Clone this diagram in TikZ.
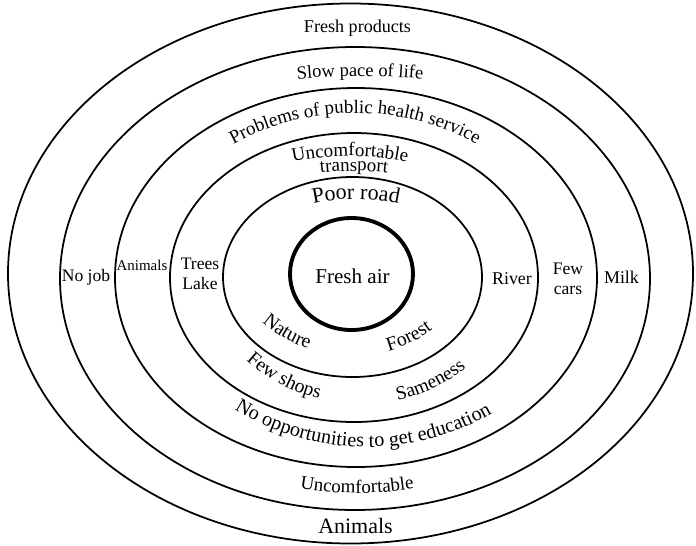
\documentclass[tikz,border=0pt]{standalone}
\usepackage{fontspec}
\setmainfont{Liberation Serif}
\usetikzlibrary{decorations.text}

\tikzset{
  ring/.style={line width=1pt},
  core/.style={line width=2.2pt},
  lbl/.style={inner sep=0pt, align=center, font=\fontsize{10}{11.3}\selectfont},
  arctext/.style={decorate, decoration={text along path, text align=center, text={#1}}}
}

\begin{document}
\begin{tikzpicture}[x=0.02cm, y=0.02cm]

  % Fix the frame of the picture
  \useasboundingbox (0,0) rectangle (696,-545);

  % Define the centres of the rings
  \coordinate (O1) at (350.5,-273.5);
  \coordinate (O2) at (355,-278.5);
  \coordinate (O3) at (356,-277.5);
  \coordinate (O4) at (354,-277.5);
  \coordinate (O5) at (352.5,-277);
  \coordinate (O6) at (351.5,-274);

  % Draw the rings, from the outside in
  \draw[ring] (O1) ellipse [x radius=342.5, y radius=270];
  \draw[ring] (O2) ellipse [x radius=295, y radius=231.5];
  \draw[ring] (O3) ellipse [x radius=241, y radius=189.5];
  \draw[ring] (O4) ellipse [x radius=184, y radius=144.5];
  \draw[ring] (O5) ellipse [x radius=129.5, y radius=100];
  \draw[core] (O6) ellipse [x radius=61.5, y radius=56];

  % Centres of the arcs that carry the bent labels
  \coordinate (Cslow) at (360,-676);
  \coordinate (Chealth) at (355,-363);
  \coordinate (Cunc) at (350,-436);
  \coordinate (Ctrans) at (354,-491);
  \coordinate (Croad) at (356,-399);
  \coordinate (Cnat) at (352,-220);
  \coordinate (Cshop) at (361,-232);
  \coordinate (Cedu) at (367,-197);
  \coordinate (Cbot) at (357,-143);

  % Labels bent over the top
  \path[arctext={|\fontsize{10.5}{12}\selectfont|Slow pace of life}]
    ([shift={(105:600)}]Cslow) arc[start angle=105, end angle=75, radius=600];
  \path[arctext={|\fontsize{10.8}{12}\selectfont|Problems of public health service}]
    ([shift={(130:250)}]Chealth) arc[start angle=130, end angle=50, radius=250];
  \path[arctext={|\fontsize{10.8}{12}\selectfont|Uncomfortable}]
    ([shift={(115:280)}]Cunc) arc[start angle=115, end angle=65, radius=280];
  \path[arctext={|\fontsize{10.8}{12}\selectfont|transport}]
    ([shift={(105:320)}]Ctrans) arc[start angle=105, end angle=75, radius=320];
  \path[arctext={|\fontsize{12.5}{14}\selectfont|Poor road}]
    ([shift={(120:200)}]Croad) arc[start angle=120, end angle=60, radius=200];

  % Labels bent under the bottom
  \path[arctext={|\fontsize{11.2}{13}\selectfont|Nature}]
    ([shift={(-140:136)}]Cnat) arc[start angle=-140, end angle=-100, radius=136];
  \path[arctext={|\fontsize{11.2}{13}\selectfont|Forest}]
    ([shift={(-84:136)}]Cnat) arc[start angle=-84, end angle=-44, radius=136];
  \path[arctext={|\fontsize{11.2}{13}\selectfont|Few shops}]
    ([shift={(-138:172)}]Cshop) arc[start angle=-138, end angle=-98, radius=172];
  \path[arctext={|\fontsize{11}{13}\selectfont|Sameness}]
    ([shift={(-85:172)}]Cshop) arc[start angle=-85, end angle=-45, radius=172];
  \path[arctext={|\fontsize{11.5}{13}\selectfont|No opportunities to get education}]
    ([shift={(-131:250)}]Cedu) arc[start angle=-131, end angle=-51, radius=250];
  \path[arctext={|\fontsize{10.8}{12}\selectfont|Uncomfortable}]
    ([shift={(-102:350)}]Cbot) arc[start angle=-102, end angle=-78, radius=350];

  % Straight labels
  \node[lbl, anchor=base, font=\fontsize{10.3}{12}\selectfont] (products) at (357.5,-32) {Fresh products};
  \node[lbl, anchor=base] (nojob) at (86,-281) {No job};
  \node[lbl, anchor=base, font=\fontsize{8.5}{10}\selectfont] (animalsL) at (142,-270) {Animals};
  \node[lbl] (trees) at (200,-274) {Trees\\Lake};
  \node[lbl, anchor=base, font=\fontsize{10.2}{12}\selectfont] (river) at (512,-284) {River};
  \node[lbl] (fewcars) at (568,-279) {Few\\cars};
  \node[lbl, anchor=base, font=\fontsize{10.2}{12}\selectfont] (milk) at (621.5,-283) {Milk};
  \node[lbl, anchor=base, font=\fontsize{12}{14}\selectfont] (air) at (352.5,-283) {Fresh air};
  \node[lbl, anchor=base, font=\fontsize{12.5}{14}\selectfont] (animalsB) at (355.5,-533) {Animals};

\end{tikzpicture}
\end{document}
